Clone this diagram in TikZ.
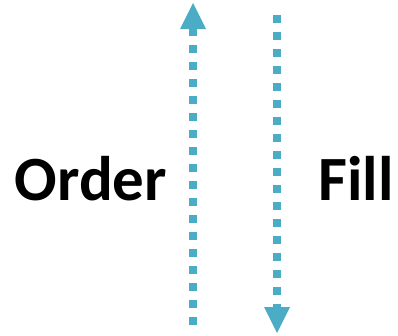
\documentclass[tikz,border=0pt]{standalone}
\usepackage{fontspec}
\setmainfont{Carlito}
\usetikzlibrary{arrows.meta,positioning}
\definecolor{flowblue}{HTML}{4BACC6}

\begin{document}
\begin{tikzpicture}[x=1pt, y=-1pt,
    flow/.style={draw=flowblue, line width=8pt, line cap=butt,
      dash pattern=on 8pt off 9pt,
      -{Triangle[width=26pt, length=26pt, fill=flowblue, line width=0pt]}},
    label/.style={font=\fontsize{63}{70}\selectfont\bfseries, inner sep=0pt, anchor=base}]
\useasboundingbox (0,0) rectangle (398,335);
\coordinate (orderstart) at (193,325);
\coordinate (orderend) at (193,3);
\coordinate (fillstart) at (277,15);
\coordinate (fillend) at (277,333);
\draw [flow] (orderstart) -- (orderend);
\draw [flow] (fillstart) -- (fillend);
\node [label] (order) at (91,200) {Order};
\node [label] (fill) at (356,200) {Fill};
\end{tikzpicture}
\end{document}
